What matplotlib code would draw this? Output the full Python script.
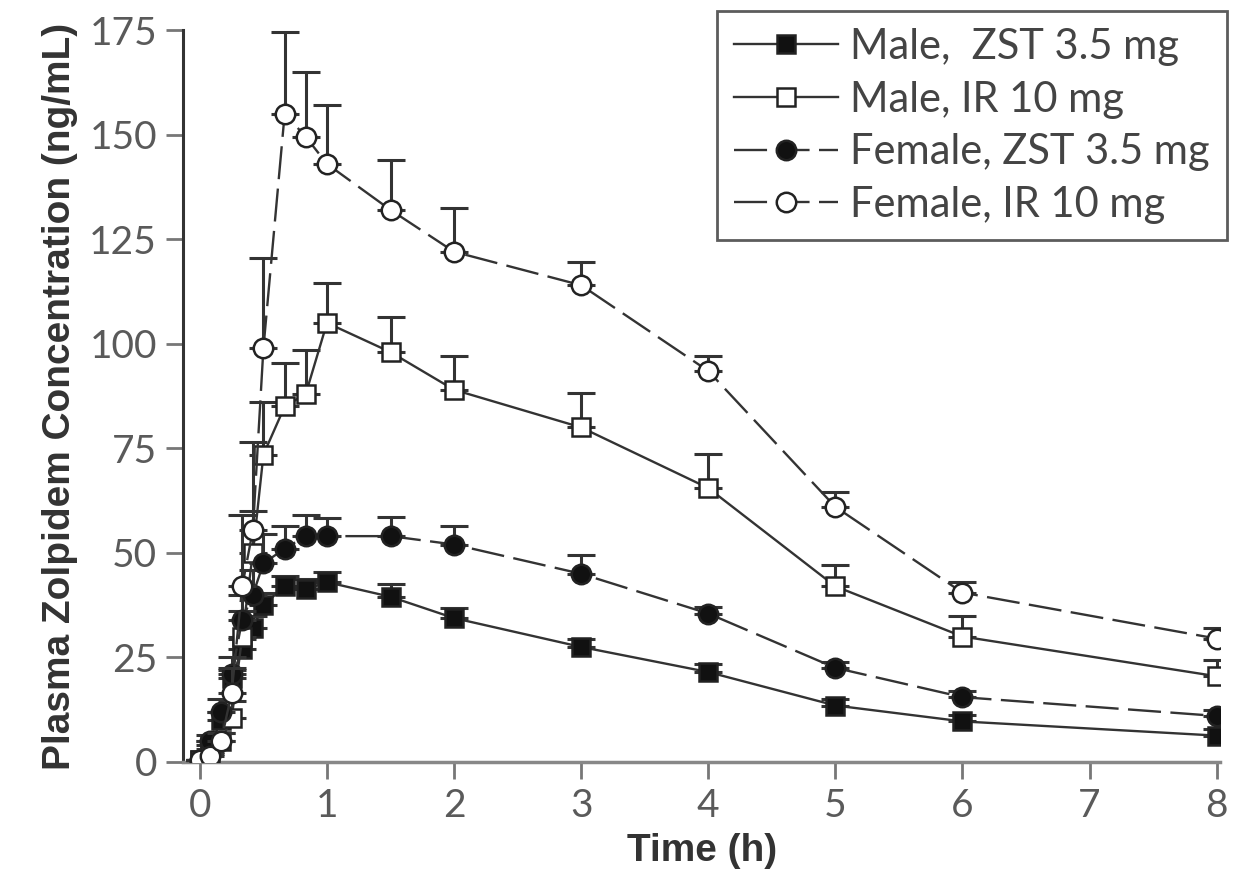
import numpy as np
import matplotlib
matplotlib.use("Agg")
import matplotlib.pyplot as plt

# sampling times (h)
time_h = [0, 0.083, 0.167, 0.25, 0.333, 0.417, 0.5, 0.667, 0.833, 1, 1.5, 2, 3, 4, 5, 6, 8]

# mean plasma concentrations (ng/mL)
male_zst = [0.5, 4, 10, 20, 27, 32, 37.5, 42, 41.3, 43, 39.5, 34.4, 27.5, 21.5, 13.5, 9.7, 6.3]
male_ir = [0.5, 2, 5, 10.5, 30, 50, 73.5, 85, 88, 105, 98, 89, 80, 65.5, 42, 30, 20.5]
female_zst = [0.5, 5, 12, 21, 34, 40, 47.5, 51, 54, 54, 54, 52, 45, 35.5, 22.5, 15.5, 11]
female_ir = [0.5, 1.5, 5, 16.5, 42, 55.5, 99, 155, 149.5, 143, 132, 122, 114, 93.5, 61, 40.5, 29.5]

# upper error bars (SD)
male_zst_err = [0, 1, 2, 2, 2.5, 3, 3, 2.5, 2.5, 2.5, 3, 2.5, 2, 2, 1.5, 1.5, 1.5]
male_ir_err = [0, 1, 2, 4, 6, 10, 12.5, 10.5, 10.5, 9.5, 8.5, 8, 8.3, 8.2, 5, 5, 4]
female_zst_err = [0, 1.5, 3, 4, 6, 6, 7, 5.5, 5, 4.3, 4.5, 4.4, 4.5, 1.5, 1.5, 1.5, 1.5]
female_ir_err = [0, 1, 2, 6, 17, 21, 21.5, 19.5, 15.5, 14, 12, 10.5, 5.5, 3.5, 3.5, 2.5, 2.5]

labels = ["Male,  ZST 3.5 mg", "Male, IR 10 mg", "Female, ZST 3.5 mg", "Female, IR 10 mg"]
x_ticks = [0, 1, 2, 3, 4, 5, 6, 7, 8]
y_ticks = [0, 25, 50, 75, 100, 125, 150, 175]

plt.rcParams["font.family"] = ["Lato", "DejaVu Sans"]

fig = plt.figure(figsize=(12.39, 8.86), dpi=100)
ax = fig.add_axes([0.148, 0.140, 0.837, 0.826])

series = [
    (male_zst, male_zst_err, "s", "#111111", "-", labels[0]),
    (male_ir, male_ir_err, "s", "white", "-", labels[1]),
    (female_zst, female_zst_err, "o", "#111111", (0, (14, 4)), labels[2]),
    (female_ir, female_ir_err, "o", "white", (0, (14, 4)), labels[3]),
]

zo = 3
for y, err, mk, fc, ls, lab in series:
    y = np.array(y)
    err = np.array(err)
    ax.errorbar(time_h, y, yerr=[np.zeros_like(err), err], fmt="none",
                ecolor="#333333", elinewidth=2.2, capsize=10, capthick=2.2, zorder=zo)
    ax.plot(time_h, y, linestyle=ls, color="#333333", linewidth=1.7,
            marker=mk, markersize=14 if mk == "o" else 12.5, markerfacecolor=fc,
            markeredgecolor="#222222", markeredgewidth=1.8, label=lab, zorder=zo + 1)
    zo += 2

ax.set_xlim(-0.13, 8.03)
ax.set_ylim(0, 175)
ax.set_xticks(x_ticks)
ax.set_yticks(y_ticks)

for s in ["top", "right"]:
    ax.spines[s].set_visible(False)
ax.spines["left"].set_color("#333333")
ax.spines["left"].set_linewidth(2.2)
ax.spines["bottom"].set_color("#888888")
ax.spines["bottom"].set_linewidth(2.5)

ax.tick_params(axis="both", direction="out", length=12, width=2, color="#777777",
               labelsize=28, labelcolor="#5a5a5a", pad=7)

ax.set_xlabel("Time (h)", fontsize=28, fontweight="bold", color="#333333",
              family=["Liberation Sans", "DejaVu Sans"], labelpad=6)
ax.set_ylabel("Plasma Zolpidem Concentration (ng/mL)", fontsize=28, fontweight="bold",
              color="#333333", family=["Liberation Sans", "DejaVu Sans"], labelpad=8)

leg = ax.legend(loc="upper right", bbox_to_anchor=(1.014, 1.037), fontsize=30,
                frameon=True, fancybox=False, handlelength=2.5, handletextpad=0.3,
                labelspacing=0.35, borderpad=0.4, borderaxespad=0.2)
leg.get_frame().set_edgecolor("#333333")
leg.get_frame().set_linewidth(2)
for t in leg.get_texts():
    t.set_color("#444444")

fig.savefig("out.png", dpi=100)
